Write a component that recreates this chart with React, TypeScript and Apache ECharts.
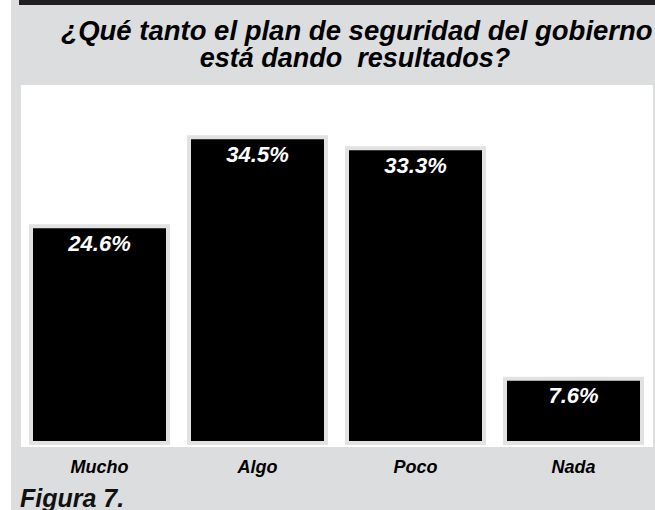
import React, { useEffect, useRef } from "react";
import * as echarts from "echarts";

const categories = ["Mucho", "Algo", "Poco", "Nada"];
const values = [24.6, 34.5, 33.3, 7.6];
const titleLines = ["¿Qué tanto el plan de seguridad del gobierno", "está dando  resultados?"];
const footnote = "Figura 7.";

const FONT = "'Liberation Sans', Arial, sans-serif";

export default function App() {
  const ref = useRef<HTMLDivElement>(null);
  useEffect(() => {
    if (!ref.current) return;
    const chart = echarts.init(ref.current, null, { renderer: "svg" });
    chart.setOption({
      animation: false,
      backgroundColor: "#ffffff",
      graphic: [
        { type: "rect", z: -10, shape: { x: 11, y: 0, width: 644, height: 510 }, style: { fill: "#dcdddf" } },
        { type: "rect", z: -9, shape: { x: 19, y: 0, width: 636, height: 5 }, style: { fill: "#231f20" } },
        { type: "rect", z: -9, shape: { x: 21, y: 85, width: 632, height: 362 }, style: { fill: "#ffffff" } },
        {
          type: "text", z: 5, x: 357, y: 30,
          style: { text: titleLines[0], fill: "#000", font: `italic bold 27.5px ${FONT}`, textAlign: "center", textVerticalAlign: "middle" },
        },
        {
          type: "text", z: 5, x: 355, y: 58,
          style: { text: titleLines[1], fill: "#000", font: `italic bold 27px ${FONT}`, textAlign: "center", textVerticalAlign: "middle" },
        },
        {
          type: "text", z: 5, x: 20, y: 497.5,
          style: { text: footnote, fill: "#111", font: `italic bold 25px ${FONT}`, textAlign: "left", textVerticalAlign: "middle" },
        },
      ],
      grid: { left: 20.5, right: 2.5, top: 86, bottom: 65 },
      xAxis: {
        type: "category",
        data: categories,
        axisLine: { show: false },
        axisTick: { show: false },
        axisLabel: {
          margin: 13,
          color: "#000",
          fontFamily: FONT,
          fontSize: 18,
          fontStyle: "italic",
          fontWeight: "bold",
        },
      },
      yAxis: { type: "value", min: 0, max: 40, show: false, splitLine: { show: false } },
      series: [
        {
          type: "bar",
          data: values,
          barWidth: 141,
          itemStyle: { color: "#000000", borderColor: "#e2e2e2", borderWidth: 4 },
          label: {
            show: true,
            position: "insideTop",
            distance: 8,
            formatter: "{c}%",
            color: "#ffffff",
            fontFamily: FONT,
            fontSize: 22,
            fontStyle: "italic",
            fontWeight: "bold",
          },
        },
      ],
    });
    return () => chart.dispose();
  }, []);
  return <div ref={ref} style={{ position: "absolute", left: 0, top: 0, width: 655, height: 510 }} />;
}
